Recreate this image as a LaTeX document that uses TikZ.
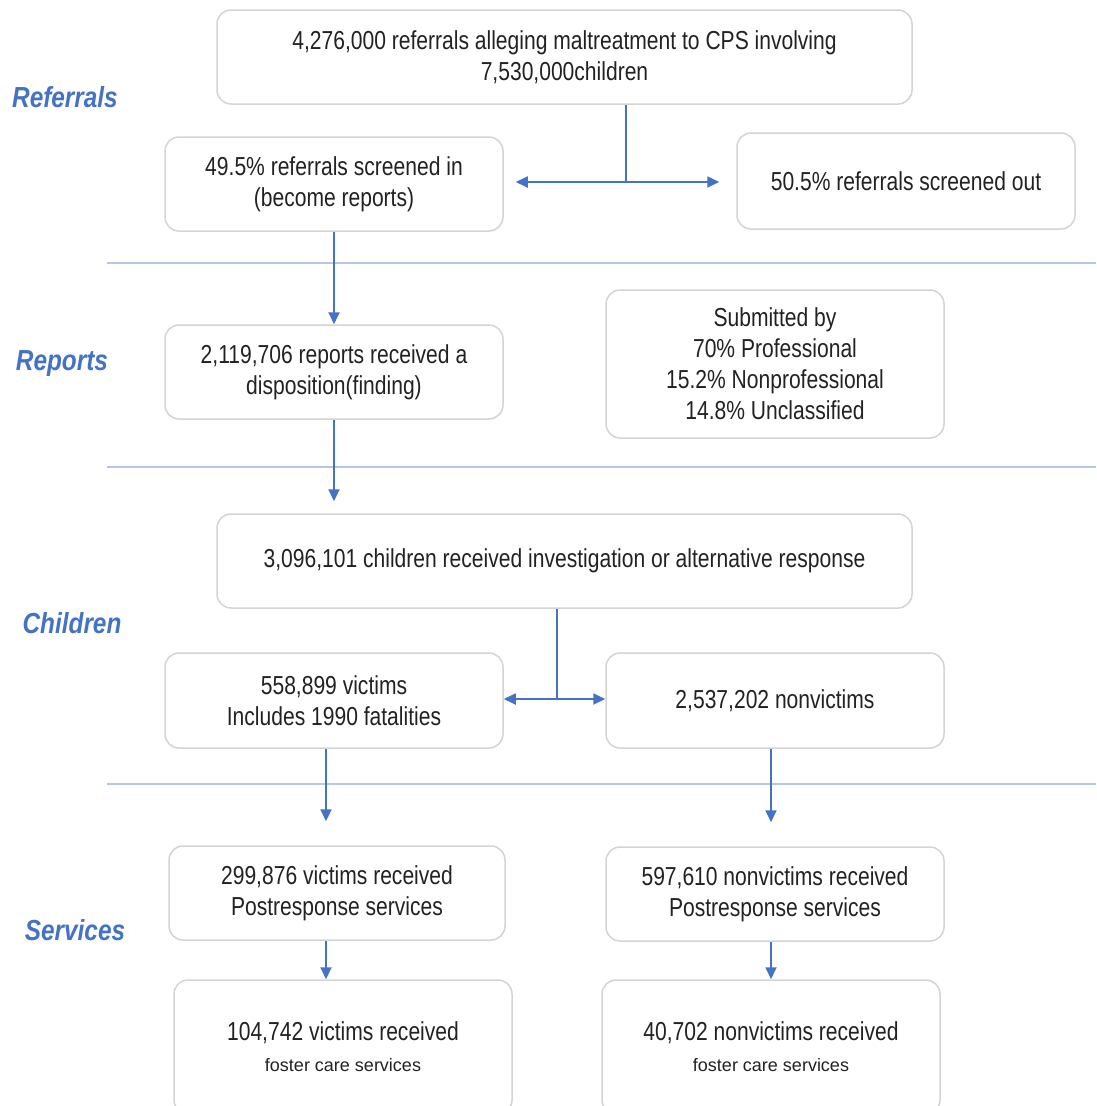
\documentclass[tikz,border=0pt]{standalone}
\usepackage{fontspec}
\setmainfont{Liberation Sans}
\newfontfamily\boxfont[FakeStretch=0.81]{Liberation Sans}
\newfontfamily\labfont[FakeStretch=0.84]{Liberation Sans}
\newfontfamily\smallfont{Liberation Sans}
\usetikzlibrary{arrows.meta}
\definecolor{arrblue}{HTML}{4472C4}
\definecolor{labblue}{HTML}{4472C4}
\definecolor{sepblue}{HTML}{B4C7E7}
\definecolor{boxgray}{HTML}{D4D4D4}
\definecolor{txt}{HTML}{222222}
\begin{document}
\begin{tikzpicture}[x=1pt,y=-1pt,
  box/.style={draw=boxgray, line width=1.5pt, rounded corners=14pt, align=center,
    inner sep=0pt, text=txt, font=\boxfont\fontsize{26}{31}\selectfont},
  lab/.style={text=labblue, font=\labfont\bfseries\itshape\fontsize{29}{34}\selectfont},
  sep/.style={draw=sepblue, line width=1.8pt},
  conn/.style={draw=arrblue, line width=1.8pt},
  arr/.style={conn, -{Triangle[length=12pt,width=11pt]}},
  darr/.style={conn, {Triangle[length=12pt,width=11pt]}-{Triangle[length=12pt,width=11pt]}}]
\useasboundingbox (0,0) rectangle (1096,1106);
\fill[white] (0,0) rectangle (1096,1106);

% separators
\coordinate (s1a) at (107,263); \coordinate (s1b) at (1096,263);
\coordinate (s2a) at (107,467); \coordinate (s2b) at (1096,467);
\coordinate (s3a) at (107,784); \coordinate (s3b) at (1096,784);
\draw[sep] (s1a) -- (s1b);
\draw[sep] (s2a) -- (s2b);
\draw[sep] (s3a) -- (s3b);

% labels
\node[lab] (lref) at (65,97) {Referrals};
\node[lab] (lrep) at (62,364) {Reports};
\node[lab] (lchi) at (72,623) {Children};
\node[lab] (lser) at (75,930) {Services};

% boxes
\node[box, minimum width=695pt, minimum height=94pt] (top) at (564.5,57)
  {4,276,000 referrals alleging maltreatment to CPS involving\\7,530,000children};
\node[box, minimum width=338pt, minimum height=94pt] (scin) at (334,184)
  {49.5\% referrals screened in\\(become reports)};
\node[box, minimum width=338pt, minimum height=96pt] (scout) at (906,181)
  {50.5\% referrals screened out};
\node[box, minimum width=338pt, minimum height=94pt] (rep) at (334,372)
  {2,119,706 reports received a\\disposition(finding)};
\node[box, minimum width=338pt, minimum height=148pt] (sub) at (775,364)
  {Submitted by\\70\% Professional\\15.2\% Nonprofessional\\14.8\% Unclassified};
\node[box, minimum width=695pt, minimum height=94pt] (chi) at (564.5,561)
  {3,096,101 children received investigation or alternative response};
\node[box, minimum width=338pt, minimum height=95pt] (vic) at (334,700.5)
  {558,899 victims\\Includes 1990 fatalities};
\node[box, minimum width=338pt, minimum height=95pt] (nvic) at (775,700.5)
  {2,537,202 nonvictims};
\node[box, minimum width=336pt, minimum height=94pt] (vser) at (337,893)
  {299,876 victims received\\Postresponse services};
\node[box, minimum width=338pt, minimum height=94pt] (nvser) at (775,894)
  {597,610 nonvictims received\\Postresponse services};
\node[box, minimum width=338pt, minimum height=134pt] (vfos) at (343,1047)
  {104,742 victims received\\{\smallfont\fontsize{18}{30}\selectfont foster care services}};
\node[box, minimum width=338pt, minimum height=134pt] (nvfos) at (771,1047)
  {40,702 nonvictims received\\{\smallfont\fontsize{18}{30}\selectfont foster care services}};

% connectors
\coordinate (sp1) at (626,182);
\draw[conn] (top.south -| sp1) -- (sp1);
\draw[arr, shorten >=12pt] (sp1) -- (scin.east |- sp1);
\draw[arr, shorten >=17pt] (sp1) -- (scout.west |- sp1);

\draw[arr] (scin.south) -- (rep.north);
\draw[arr, shorten >=12pt] (rep.south) -- (rep.south |- chi.north);

\coordinate (sp2) at (557,699);
\draw[conn] (chi.south -| sp2) -- (sp2);
\draw[arr] (sp2) -- (vic.east |- sp2);
\draw[arr] (sp2) -- (nvic.west |- sp2);

\coordinate (vx) at (326,0);
\coordinate (nx) at (771,0);
\draw[arr, shorten >=24pt] (vic.south -| vx) -- (vser.north -| vx);
\draw[arr, shorten >=24pt] (nvic.south -| nx) -- (nvser.north -| nx);
\draw[arr] (vser.south -| vx) -- (vfos.north -| vx);
\draw[arr] (nvser.south -| nx) -- (nvfos.north -| nx);
\end{tikzpicture}
\end{document}
